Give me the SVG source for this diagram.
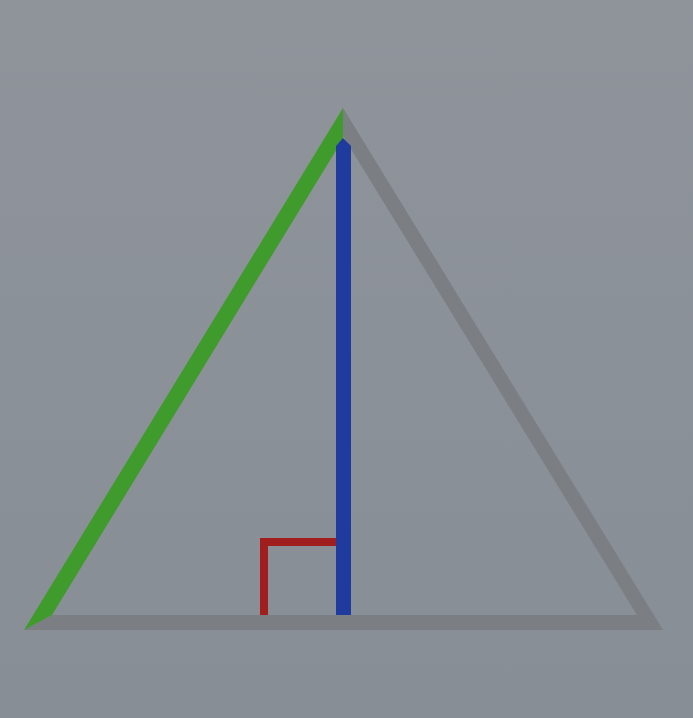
<svg xmlns="http://www.w3.org/2000/svg" width="693" height="718" viewBox="0 0 693 718">
  <defs>
    <linearGradient id="bg" x1="0" y1="0" x2="0" y2="1">
      <stop offset="0" stop-color="#8e949a"/>
      <stop offset="1" stop-color="#888e95"/>
    </linearGradient>
  </defs>
  <style>
    .gray { fill: #7b7f84; }
    .green { fill: #3f9b2b; }
    .blue { fill: #1f3b9e; }
    .red { fill: #a11e1e; }
  </style>
  <rect x="0" y="0" width="693" height="718" fill="url(#bg)"/>
  <g id="triangle">
    <polygon id="right-side" class="gray" points="343,108 663,630 637,615 343,136"/>
    <polygon id="base" class="gray" points="24,630 663,630 637,615 52,615"/>
    <polygon id="left-side" class="green" points="24,630 343,108 343,139 52,615"/>
  </g>
  <g id="height">
    <polygon class="blue" points="336,146 343,138 351,146 351,615 336,615"/>
  </g>
  <g id="right-angle">
    <polygon class="red" points="260,538 336,538 336,546 268,546 268,615 260,615"/>
  </g>
</svg>
